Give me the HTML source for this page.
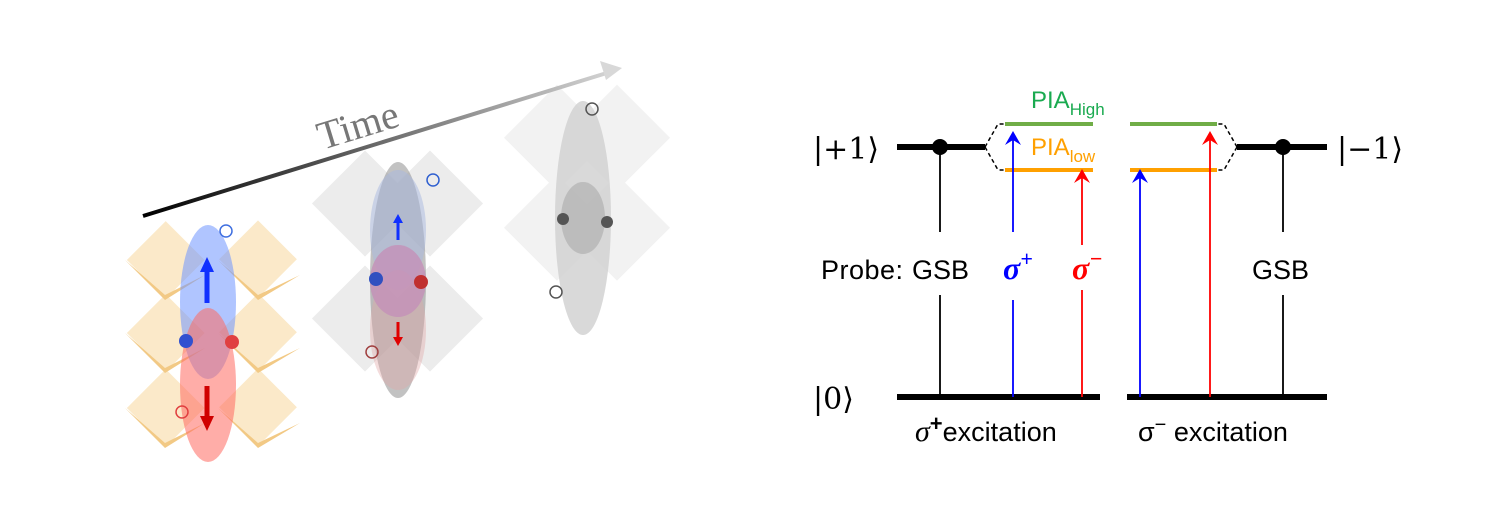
<!DOCTYPE html>
<html><head><style>
html,body{margin:0;padding:0;background:#fff}
svg{display:block}
</style></head><body>
<svg width="1500" height="524" viewBox="0 0 1500 524" xmlns="http://www.w3.org/2000/svg">
<defs>
<linearGradient id="tg" x1="145" y1="215" x2="620" y2="68" gradientUnits="userSpaceOnUse">
<stop offset="0" stop-color="#000"/><stop offset="1" stop-color="#d8d8d8"/></linearGradient>
</defs>
<!-- group 3 background -->
<g fill="#f0f0f0" opacity="0.8">
<rect x="520" y="100" width="75" height="75" transform="rotate(45 557 137)"/>
<rect x="580" y="100" width="75" height="75" transform="rotate(45 617 137)"/>
<rect x="520" y="190" width="75" height="75" transform="rotate(45 557 227)"/>
<rect x="580" y="190" width="75" height="75" transform="rotate(45 617 227)"/>
</g>
<ellipse cx="583" cy="218" rx="28" ry="117" fill="#cfcfcf" opacity="0.8"/>
<ellipse cx="583" cy="218" rx="22" ry="36" fill="#b0b0b0" opacity="0.7"/>
<circle cx="563" cy="219" r="6" fill="#555"/><circle cx="607" cy="222" r="6" fill="#555"/>
<circle cx="592" cy="109" r="6" fill="none" stroke="#555" stroke-width="1.5"/>
<circle cx="556" cy="292" r="6" fill="none" stroke="#555" stroke-width="1.5"/>
<!-- group 2 background -->
<g fill="#e8e8e8" opacity="0.8">
<rect x="330" y="165" width="75" height="75" transform="rotate(45 365 200)"/>
<rect x="395" y="165" width="75" height="75" transform="rotate(45 430 200)"/>
<rect x="330" y="280" width="75" height="75" transform="rotate(45 365 315)"/>
<rect x="395" y="280" width="75" height="75" transform="rotate(45 430 315)"/>
</g>
<ellipse cx="398" cy="280" rx="28" ry="118" fill="#9a9a9a" opacity="0.6"/>
<ellipse cx="398" cy="230" rx="28" ry="60" fill="#a8b8e0" opacity="0.5"/>
<ellipse cx="398" cy="330" rx="28" ry="60" fill="#e0a8a8" opacity="0.4"/>
<ellipse cx="398" cy="281" rx="28" ry="36" fill="#c490b8" opacity="0.8"/>
<circle cx="376" cy="279" r="7" fill="#3050c0"/><circle cx="421" cy="282" r="7" fill="#c03030"/>
<circle cx="433" cy="180" r="6" fill="none" stroke="#3060d0" stroke-width="1.5"/>
<circle cx="372" cy="352" r="6" fill="none" stroke="#a04040" stroke-width="1.5"/>
<path d="M398 240V222" stroke="#1030ff" stroke-width="3"/><path d="M393 223L398 214L403 223Z" fill="#1030ff"/>
<path d="M398 322V338" stroke="#e00000" stroke-width="3"/><path d="M393 337L398 346L403 337Z" fill="#e00000"/>
<!-- group 1 octahedra -->
<g opacity="0.85">
<g fill="#fbe6c0">
<rect x="138" y="232" width="55" height="55" transform="rotate(45 165 260)"/>
<rect x="230" y="232" width="55" height="55" transform="rotate(45 258 260)"/>
<rect x="138" y="305" width="55" height="55" transform="rotate(45 165 333)"/>
<rect x="230" y="305" width="55" height="55" transform="rotate(45 258 333)"/>
<rect x="138" y="380" width="55" height="55" transform="rotate(45 165 408)"/>
<rect x="230" y="380" width="55" height="55" transform="rotate(45 258 408)"/>
</g>
<g fill="#f0c070">
<path d="M125 260L165 295L205 275L165 300Z"/><path d="M218 260L258 295L300 275L258 300Z"/>
<path d="M125 333L165 368L205 348L165 373Z"/><path d="M218 333L258 368L300 348L258 373Z"/>
<path d="M125 408L165 443L205 423L165 448Z"/><path d="M218 408L258 443L300 423L258 448Z"/>
</g></g>
<ellipse cx="208" cy="302" rx="28" ry="77" fill="#6f95ff" opacity="0.55"/>
<ellipse cx="208" cy="385" rx="28" ry="77" fill="#ff6a60" opacity="0.55"/>
<circle cx="186" cy="341" r="7" fill="#3050d0"/><circle cx="232" cy="342" r="7" fill="#e04040"/>
<circle cx="226" cy="231" r="6" fill="none" stroke="#4070e0" stroke-width="1.5"/>
<circle cx="182" cy="412" r="6" fill="none" stroke="#e04040" stroke-width="1.5"/>
<path d="M207 303V270" stroke="#1030ff" stroke-width="5"/><path d="M200 272L207 257L214 272Z" fill="#1030ff"/>
<path d="M207 386V418" stroke="#d00000" stroke-width="5"/><path d="M200 416L207 431L214 416Z" fill="#d00000"/>
<!-- time arrow -->
<path d="M143 216L610 72" fill="none" stroke="url(#tg)" stroke-width="4"/>
<path d="M600 61L622 68L606 80Z" fill="#d8d8d8"/>
<text x="0" y="0" transform="translate(322 150) rotate(-17)" font-family="Liberation Serif,serif" font-size="40" fill="#777">Time</text>

<!-- energy diagram -->
<g stroke="#000" stroke-width="6">
<path d="M897 147H985M1237 147H1327M897 397H1100M1127 397H1327"/></g>
<circle cx="940" cy="147" r="8"/><circle cx="1283" cy="147" r="8"/>
<path d="M985 147L998 124H1005M985 147L998 170H1005M1237 147L1224 124H1217M1237 147L1224 170H1217" fill="none" stroke="#000" stroke-width="1.5" stroke-dasharray="4 3"/>
<path d="M1005 124H1093M1130 124H1217" stroke="#70ad47" stroke-width="4"/>
<path d="M1005 170H1093M1130 170H1217" stroke="#ffa000" stroke-width="4"/>
<g stroke-width="1.8" fill="none">
<path d="M940 147V232M940 295V397M1283 147V232M1283 295V397" stroke="#000"/>
<path d="M1013 397V300M1013 232V138M1140 397V176" stroke="#0000ff"/>
<path d="M1082 397V290M1082 245V176M1210 397V138" stroke="#ff0000"/>
</g>
<path d="M1005 145L1013 131L1021 145L1013 140Z" fill="#0000ff"/>
<path d="M1132 183L1140 169L1148 183L1140 178Z" fill="#0000ff"/>
<path d="M1074 183L1082 169L1090 183L1082 178Z" fill="#ff0000"/>
<path d="M1202 145L1210 131L1218 145L1210 140Z" fill="#ff0000"/>
<g font-family="Liberation Sans,sans-serif" font-size="27">
<text x="813" y="159" font-family="DejaVu Serif,serif" font-size="30">|+1⟩</text>
<text x="1337" y="159" font-family="DejaVu Serif,serif" font-size="30">|−1⟩</text>
<text x="813" y="409" font-family="DejaVu Serif,serif" font-size="30">|0⟩</text>
<text x="821" y="279" textLength="82">Probe:</text><text x="912" y="279">GSB</text>
<text x="1252" y="279">GSB</text>
<text x="1003" y="279" fill="#0000ff" font-family="Liberation Serif,serif" font-weight="bold" font-style="italic" font-size="32">σ<tspan font-size="22" dy="-13">+</tspan></text>
<text x="1072" y="279" fill="#ff0000" font-family="Liberation Serif,serif" font-weight="bold" font-style="italic" font-size="32">σ<tspan font-size="22" dy="-13">−</tspan></text>
<text x="1031" y="108" fill="#1aaa50" font-size="24">PIA<tspan font-size="17" dy="7">High</tspan></text>
<text x="1031" y="155" fill="#ffa000" font-size="24">PIA<tspan font-size="17" dy="7">low</tspan></text>
<text x="915" y="441"><tspan font-family="Liberation Serif,serif" font-style="italic" font-size="30">σ</tspan><tspan font-size="22" dy="-10" font-weight="bold">+</tspan><tspan dy="10">excitation</tspan></text>
<text x="1138" y="441">σ<tspan font-size="20" dy="-10">−</tspan><tspan dy="10"> excitation</tspan></text>
</g>
</svg>
</body></html>
